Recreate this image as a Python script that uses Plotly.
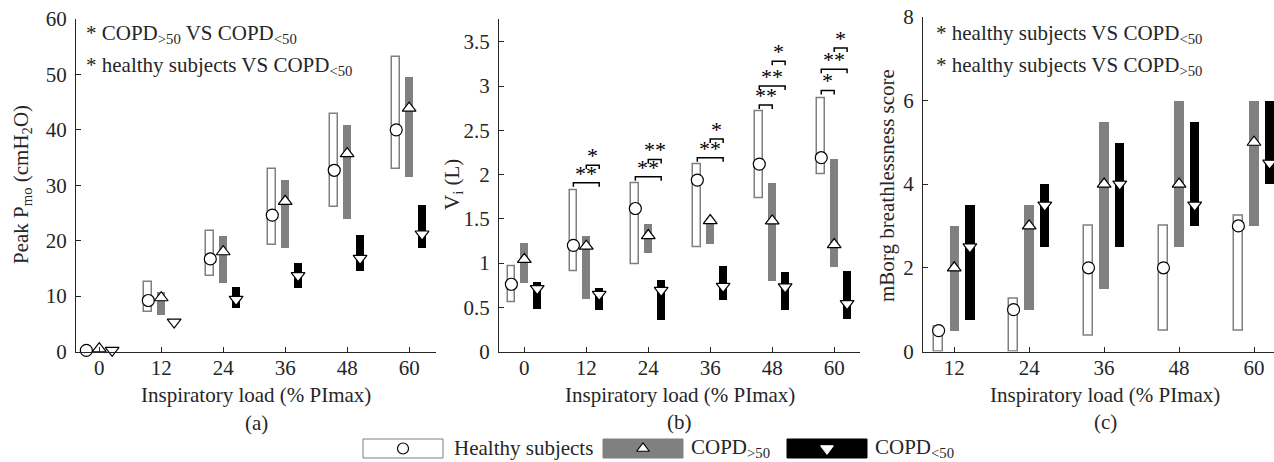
import plotly.graph_objects as go

W, H = 1274, 462
FONT = "Liberation Serif"
TXT = "#262626"

# ---------------- data ----------------
cats_ab = [0, 12, 24, 36, 48, 60]
cats_c = [12, 24, 36, 48, 60]
tick_ab = ["0", "12", "24", "36", "48", "60"]
tick_c = ["12", "24", "36", "48", "60"]

# (a) Peak Pmo (cmH2O)
a_h_med = [0.2, 9.2, 16.7, 24.6, 32.7, 40.0]
a_h_lo = [None, 7.1, 13.6, 19.3, 26.1, 32.9]
a_h_hi = [None, 12.5, 21.8, 32.9, 42.8, 53.1]
a_g_med = [0.5, 9.7, 18.0, 27.1, 35.7, 43.9]
a_g_lo = [None, 6.6, 12.4, 18.7, 23.9, 31.4]
a_g_hi = [None, 10.7, 20.8, 30.9, 40.9, 49.6]
a_b_med = [0.2, 5.3, 9.4, 13.7, 16.8, 21.2]
a_b_lo = [None, None, 7.8, 11.4, 14.5, 18.75]
a_b_hi = [None, None, 11.6, 16.0, 21.1, 26.4]

# (b) Vi (L)
b_h_med = [0.76, 1.20, 1.616, 1.937, 2.118, 2.19]
b_h_lo = [0.558, 0.91, 0.985, 1.174, 1.729, 2.008]
b_h_hi = [0.963, 1.823, 1.90, 2.12, 2.718, 2.857]
b_g_med = [1.04, 1.19, 1.31, 1.48, 1.476, 1.208]
b_g_lo = [0.766, 0.59, 1.106, 1.208, 0.793, 0.948]
b_g_hi = [1.226, 1.30, 1.438, 1.50, 1.906, 2.175]
b_b_med = [0.71, 0.645, 0.69, 0.736, 0.73, 0.54]
b_b_lo = [0.472, 0.47, 0.35, 0.578, 0.47, 0.36]
b_b_hi = [0.785, 0.71, 0.80, 0.963, 0.89, 0.91]

# (c) mBorg breathlessness score
c_h_med = [0.5, 1.0, 2.0, 2.0, 3.0]
c_h_lo = [0, 0, 0.375, 0.5, 0.5]
c_h_hi = [0.6, 1.25, 3.0, 3.0, 3.25]
c_g_med = [2, 3, 4, 4, 5]
c_g_lo = [0.5, 1.0, 1.5, 2.5, 3.0]
c_g_hi = [3.0, 3.5, 5.5, 6.0, 6.0]
c_b_med = [2.5, 3.5, 4.0, 3.5, 4.5]
c_b_lo = [0.75, 2.5, 2.5, 3.0, 4.0]
c_b_hi = [3.5, 4.0, 5.0, 5.5, 6.0]

# significance brackets in (b): category, from group, to group, level, label
br_cat = [12, 12, 24, 24, 36, 36, 48, 48, 48, 60, 60, 60]
br_from = ["H", "G", "H", "G", "H", "G", "H", "H", "G", "H", "H", "G"]
br_to = ["L", "L", "L", "L", "L", "L", "G", "L", "L", "G", "L", "L"]
br_y = [1.906, 2.106, 1.974, 2.17, 2.19, 2.40, 2.786, 3.0, 3.28, 2.95, 3.19, 3.43]
br_lab = ["**", "*", "**", "**", "**", "*", "**", "**", "*", "*", "**", "*"]

OFF = {"H": -2.5, "G": 0.0, "L": 2.5}
BW = 1.5

def px(x):
    return x / W

def py(y):
    return 1 - y / H

fig = go.Figure()

STY = {
    "H": dict(fill="#ffffff", line="#7f7f7f", lw=1.5, sym="circle"),
    "G": dict(fill="#808080", line="#808080", lw=0, sym="triangle-up"),
    "L": dict(fill="#000000", line="#000000", lw=0, sym="triangle-down"),
}

def add_panel(xa, ya, cats, groups):
    for key, med, lo, hi in groups:
        s = STY[key]
        xs = [c + OFF[key] for c in cats]
        ys = [None if (l is None or h is None) else h - l for l, h in zip(lo, hi)]
        fig.add_bar(x=xs, y=ys, base=lo, width=BW,
                    marker=dict(color=s["fill"], line=dict(color=s["line"], width=s["lw"])),
                    xaxis=xa, yaxis=ya, showlegend=False, hoverinfo="skip")
    for key, med, lo, hi in groups:
        s = STY[key]
        xs = [c + OFF[key] for c in cats]
        fig.add_scatter(x=xs, y=med, mode="markers", xaxis=xa, yaxis=ya,
                        marker=dict(symbol=s["sym"], size=12, color="white",
                                    line=dict(color="black", width=1.2)),
                        showlegend=False, hoverinfo="skip", cliponaxis=False)

add_panel("x", "y", cats_ab, [("H", a_h_med, a_h_lo, a_h_hi),
                              ("G", a_g_med, a_g_lo, a_g_hi),
                              ("L", a_b_med, a_b_lo, a_b_hi)])
add_panel("x2", "y2", cats_ab, [("H", b_h_med, b_h_lo, b_h_hi),
                                ("G", b_g_med, b_g_lo, b_g_hi),
                                ("L", b_b_med, b_b_lo, b_b_hi)])
add_panel("x3", "y3", cats_c, [("H", c_h_med, c_h_lo, c_h_hi),
                               ("G", c_g_med, c_g_lo, c_g_hi),
                               ("L", c_b_med, c_b_lo, c_b_hi)])

annotations = []
# brackets
d = 0.045
for c, f, t, yv, lab in zip(br_cat, br_from, br_to, br_y, br_lab):
    x0 = c + OFF[f]
    x1 = c + OFF[t]
    fig.add_scatter(x=[x0, x0, x1, x1], y=[yv - d, yv, yv, yv - d], mode="lines",
                    line=dict(color="black", width=1.5), xaxis="x2", yaxis="y2",
                    showlegend=False, hoverinfo="skip")
    annotations.append(dict(x=(x0 + x1) / 2, y=yv, xref="x2", yref="y2", text=lab,
                            showarrow=False, yanchor="bottom", yshift=-5,
                            font=dict(family=FONT, size=22, color="black")))

# ---------------- axes ----------------
def ax(**kw):
    base = dict(showline=True, linecolor=TXT, linewidth=1, ticks="inside", ticklen=5,
                tickwidth=1, tickcolor=TXT, showgrid=False, zeroline=False,
                automargin=False,
                tickfont=dict(family=FONT, size=21, color=TXT))
    base.update(kw)
    return base

ybot = py(351.5)
fig.update_layout(
    width=W, height=H, margin=dict(l=0, r=0, t=0, b=0, autoexpand=False),
    paper_bgcolor="white", plot_bgcolor="rgba(0,0,0,0)",
    barmode="overlay", bargap=0,
    xaxis=ax(domain=[px(76), px(436)], range=[-4.5, 65.2], tickvals=cats_ab,
             ticktext=tick_ab, anchor="y", ticklabelstandoff=-3),
    yaxis=ax(domain=[ybot, py(19)], range=[0, 60], tickvals=[0, 10, 20, 30, 40, 50, 60],
             anchor="x", ticklabelstandoff=4),
    xaxis2=ax(domain=[px(499), px(860)], range=[-4.9, 65], tickvals=cats_ab,
              ticktext=tick_ab, anchor="y2", ticklabelstandoff=-3),
    yaxis2=ax(domain=[ybot, py(19.3)], range=[0, 3.754],
              tickvals=[0, 0.5, 1, 1.5, 2, 2.5, 3, 3.5],
              ticktext=["0", "0.5", "1", "1.5", "2", "2.5", "3", "3.5"],
              anchor="x2", ticklabelstandoff=4),
    xaxis3=ax(domain=[px(923), 1], range=[7, 63.2], tickvals=cats_c,
              ticktext=tick_c, anchor="y3", ticklabelstandoff=-3),
    yaxis3=ax(domain=[ybot, py(16.7)], range=[0, 8], tickvals=[0, 2, 4, 6, 8],
              anchor="x3", ticklabelstandoff=4),
    xaxis4=dict(domain=[0, 1], range=[0, W], visible=False, anchor="y4", automargin=False),
    yaxis4=dict(domain=[0, 1], range=[H, 0], visible=False, anchor="x4", automargin=False),
)

def txt(x, y, s, size=21, xanchor="center", yanchor="middle", angle=0, color=TXT):
    annotations.append(dict(x=px(x), y=py(y), xref="paper", yref="paper", text=s,
                            showarrow=False, xanchor=xanchor, yanchor=yanchor,
                            textangle=angle, font=dict(family=FONT, size=size, color=color)))

# axis titles
for cx in [256, 679.5, 1105]:
    txt(cx, 395, "Inspiratory load (% PImax)")
txt(256, 423, "(a)")
txt(679.5, 422, "(b)")
txt(1105, 422, "(c)")
txt(22, 185, "Peak P<sub>mo</sub> (cmH<sub>2</sub>O)", angle=-90)
txt(453, 185, "V<sub>i</sub> (L)", angle=-90)
txt(887, 185, "mBorg breathlessness score", angle=-90)

# panel notes
txt(84, 34, "* COPD<sub>&gt;50</sub> VS COPD<sub>&lt;50</sub>", xanchor="left")
txt(84, 66, "* healthy subjects VS COPD<sub>&lt;50</sub>", xanchor="left")
txt(934, 34, "* healthy subjects VS COPD<sub>&lt;50</sub>", xanchor="left")
txt(934, 66, "* healthy subjects VS COPD<sub>&gt;50</sub>", xanchor="left")

# legend
leg_x0 = [363, 603, 787]
leg_fill = ["#ffffff", "#808080", "#000000"]
leg_line = ["#7f7f7f", "#808080", "#000000"]
leg_sym = ["circle", "triangle-up", "triangle-down"]
leg_mfill = ["white", "white", "white"]
leg_mline = ["black", "black", "white"]
leg_text = ["Healthy subjects", "COPD<sub>&gt;50</sub>", "COPD<sub>&lt;50</sub>"]
leg_tx = [452, 689, 873]
shapes = []
for x0, f, l, sym, mf, ml, t, tx in zip(leg_x0, leg_fill, leg_line, leg_sym, leg_mfill,
                                         leg_mline, leg_text, leg_tx):
    shapes.append(dict(type="rect", xref="x4", yref="y4", x0=x0, x1=x0 + 80, y0=439, y1=458,
                       fillcolor=f, line=dict(color=l, width=1), layer="below"))
    fig.add_scatter(x=[x0 + 40], y=[448.5], xaxis="x4", yaxis="y4", mode="markers",
                    marker=dict(symbol=sym, size=11, color=mf, line=dict(color=ml, width=1.2)),
                    showlegend=False, hoverinfo="skip", cliponaxis=False)
    txt(tx, 448, t, xanchor="left")

fig.update_layout(shapes=shapes, annotations=annotations)
fig.write_html("out.html")
